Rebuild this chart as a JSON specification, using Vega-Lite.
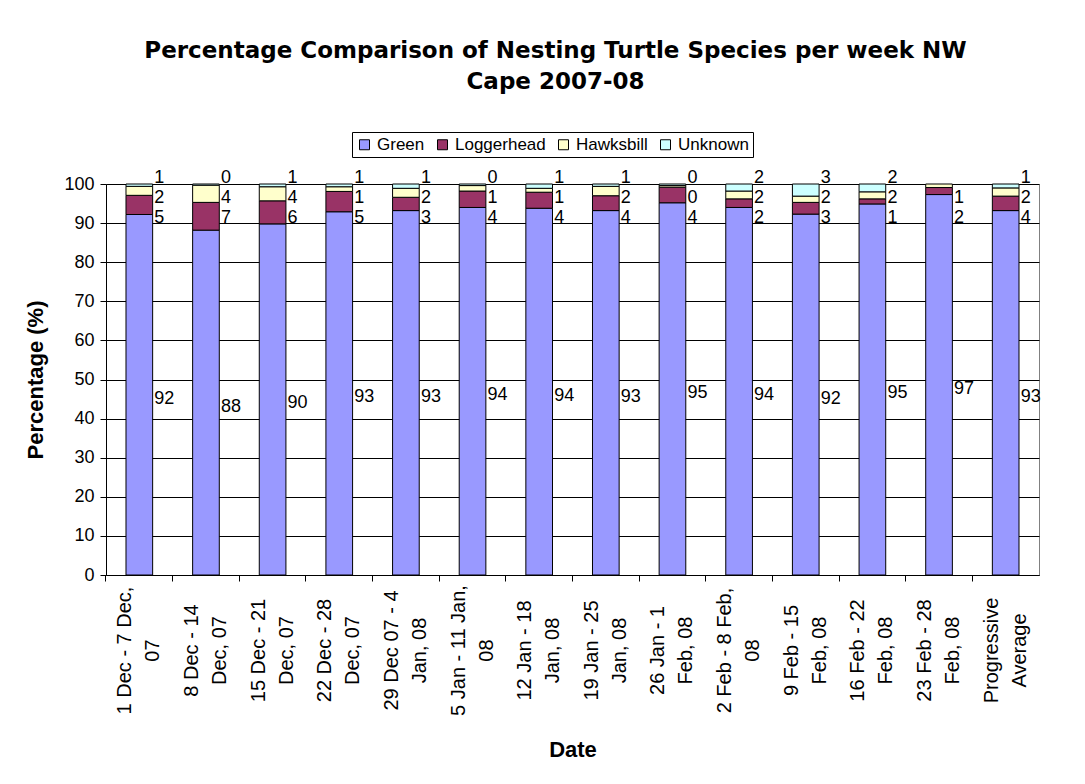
{
  "$schema": "https://vega.github.io/schema/vega-lite/v6.json",
  "width": 933,
  "height": 391,
  "autosize": {"type": "none"},
  "padding": {"left": 106, "top": 184, "right": 46, "bottom": 209},
  "background": "white",
  "config": {
    "font": "Liberation Sans",
    "view": {"stroke": "#808080", "strokeWidth": 1},
    "axis": {"labelFont": "Liberation Sans", "titleFont": "Liberation Sans", "labelColor": "#000", "titleColor": "#000"},
    "axisY": {
      "tickCount": 10,
      "labelOverlap": false,
      "labelFontSize": 18,
      "labelPadding": 6,
      "tickSize": 6,
      "tickColor": "#000",
      "domainColor": "#000",
      "grid": true,
      "gridColor": "#000",
      "gridWidth": 1,
      "titleFontSize": 22,
      "titleFontWeight": "bold",
      "titlePadding": 16
    }
  },
  "title": {
    "text": ["Percentage Comparison of Nesting Turtle Species per week NW", "Cape 2007-08"],
    "font": "DejaVu Sans",
    "fontSize": 23,
    "fontWeight": "bold",
    "color": "#000",
    "anchor": "middle",
    "dx": -17,
    "offset": 38,
    "lineHeight": 31
  },
  "data": {
    "values": [
      {"week": "1 Dec - 7 Dec,\n07", "species": "Green", "pct": 92.2},
      {"week": "1 Dec - 7 Dec,\n07", "species": "Loggerhead", "pct": 4.9},
      {"week": "1 Dec - 7 Dec,\n07", "species": "Hawksbill", "pct": 2.3},
      {"week": "1 Dec - 7 Dec,\n07", "species": "Unknown", "pct": 0.6},
      {"week": "8 Dec - 14\nDec, 07", "species": "Green", "pct": 88.2},
      {"week": "8 Dec - 14\nDec, 07", "species": "Loggerhead", "pct": 7.1},
      {"week": "8 Dec - 14\nDec, 07", "species": "Hawksbill", "pct": 4.4},
      {"week": "8 Dec - 14\nDec, 07", "species": "Unknown", "pct": 0.3},
      {"week": "15 Dec - 21\nDec, 07", "species": "Green", "pct": 89.8},
      {"week": "15 Dec - 21\nDec, 07", "species": "Loggerhead", "pct": 5.9},
      {"week": "15 Dec - 21\nDec, 07", "species": "Hawksbill", "pct": 3.6},
      {"week": "15 Dec - 21\nDec, 07", "species": "Unknown", "pct": 0.7},
      {"week": "22 Dec - 28\nDec, 07", "species": "Green", "pct": 92.9},
      {"week": "22 Dec - 28\nDec, 07", "species": "Loggerhead", "pct": 5.2},
      {"week": "22 Dec - 28\nDec, 07", "species": "Hawksbill", "pct": 1.2},
      {"week": "22 Dec - 28\nDec, 07", "species": "Unknown", "pct": 0.7},
      {"week": "29 Dec 07 - 4\nJan, 08", "species": "Green", "pct": 93.2},
      {"week": "29 Dec 07 - 4\nJan, 08", "species": "Loggerhead", "pct": 3.4},
      {"week": "29 Dec 07 - 4\nJan, 08", "species": "Hawksbill", "pct": 2.3},
      {"week": "29 Dec 07 - 4\nJan, 08", "species": "Unknown", "pct": 1.1},
      {"week": "5 Jan - 11 Jan,\n08", "species": "Green", "pct": 94.0},
      {"week": "5 Jan - 11 Jan,\n08", "species": "Loggerhead", "pct": 4.2},
      {"week": "5 Jan - 11 Jan,\n08", "species": "Hawksbill", "pct": 1.4},
      {"week": "5 Jan - 11 Jan,\n08", "species": "Unknown", "pct": 0.4},
      {"week": "12 Jan - 18\nJan, 08", "species": "Green", "pct": 93.8},
      {"week": "12 Jan - 18\nJan, 08", "species": "Loggerhead", "pct": 4.1},
      {"week": "12 Jan - 18\nJan, 08", "species": "Hawksbill", "pct": 1.0},
      {"week": "12 Jan - 18\nJan, 08", "species": "Unknown", "pct": 1.1},
      {"week": "19 Jan - 25\nJan, 08", "species": "Green", "pct": 93.2},
      {"week": "19 Jan - 25\nJan, 08", "species": "Loggerhead", "pct": 3.8},
      {"week": "19 Jan - 25\nJan, 08", "species": "Hawksbill", "pct": 2.4},
      {"week": "19 Jan - 25\nJan, 08", "species": "Unknown", "pct": 0.6},
      {"week": "26 Jan - 1\nFeb, 08", "species": "Green", "pct": 95.2},
      {"week": "26 Jan - 1\nFeb, 08", "species": "Loggerhead", "pct": 4.0},
      {"week": "26 Jan - 1\nFeb, 08", "species": "Hawksbill", "pct": 0.4},
      {"week": "26 Jan - 1\nFeb, 08", "species": "Unknown", "pct": 0.4},
      {"week": "2 Feb - 8 Feb,\n08", "species": "Green", "pct": 94.0},
      {"week": "2 Feb - 8 Feb,\n08", "species": "Loggerhead", "pct": 2.2},
      {"week": "2 Feb - 8 Feb,\n08", "species": "Hawksbill", "pct": 2.0},
      {"week": "2 Feb - 8 Feb,\n08", "species": "Unknown", "pct": 1.8},
      {"week": "9 Feb - 15\nFeb, 08", "species": "Green", "pct": 92.3},
      {"week": "9 Feb - 15\nFeb, 08", "species": "Loggerhead", "pct": 3.0},
      {"week": "9 Feb - 15\nFeb, 08", "species": "Hawksbill", "pct": 1.6},
      {"week": "9 Feb - 15\nFeb, 08", "species": "Unknown", "pct": 3.1},
      {"week": "16 Feb - 22\nFeb, 08", "species": "Green", "pct": 94.9},
      {"week": "16 Feb - 22\nFeb, 08", "species": "Loggerhead", "pct": 1.3},
      {"week": "16 Feb - 22\nFeb, 08", "species": "Hawksbill", "pct": 1.8},
      {"week": "16 Feb - 22\nFeb, 08", "species": "Unknown", "pct": 2.0},
      {"week": "23 Feb - 28\nFeb, 08", "species": "Green", "pct": 97.3},
      {"week": "23 Feb - 28\nFeb, 08", "species": "Loggerhead", "pct": 1.8},
      {"week": "23 Feb - 28\nFeb, 08", "species": "Hawksbill", "pct": 0.9},
      {"week": "Progressive\nAverage", "species": "Green", "pct": 93.2},
      {"week": "Progressive\nAverage", "species": "Loggerhead", "pct": 3.7},
      {"week": "Progressive\nAverage", "species": "Hawksbill", "pct": 2.1},
      {"week": "Progressive\nAverage", "species": "Unknown", "pct": 1.0}
    ]
  },
  "transform": [
    {"calculate": "indexof(['Green','Loggerhead','Hawksbill','Unknown'], datum.species)", "as": "stackOrder"}
  ],
  "layer": [
    {
      "mark": {"type": "bar", "stroke": "#000", "strokeWidth": 1},
      "encoding": {
        "x": {
          "field": "week",
          "type": "nominal",
          "sort": null,
          "scale": {"paddingInner": 0.6, "paddingOuter": 0.3},
          "axis": {
            "orient": "bottom",
            "bandPosition": -0.75,
            "labels": false,
            "title": null,
            "ticks": true,
            "tickSize": 6,
            "tickColor": "#000",
            "domainColor": "#000",
            "grid": false
          }
        },
        "y": {
          "field": "pct",
          "type": "quantitative",
          "stack": "zero",
          "scale": {"domain": [0, 100], "nice": false},
          "title": "Percentage (%)"
        },
        "color": {
          "field": "species",
          "type": "nominal",
          "sort": ["Green", "Loggerhead", "Hawksbill", "Unknown"],
          "scale": {
            "domain": ["Green", "Loggerhead", "Hawksbill", "Unknown"],
            "range": ["#9999FF", "#993366", "#FFFFCC", "#CCFFFF"]
          },
          "legend": {
            "title": null,
            "orient": "none",
            "direction": "horizontal",
            "legendX": 246,
            "legendY": -52,
            "strokeColor": "#000",
            "fillColor": "#fff",
            "padding": 4,
            "symbolType": "square",
            "symbolSize": 100,
            "symbolStrokeColor": "#000",
            "symbolStrokeWidth": 1,
            "symbolOpacity": 1,
            "labelFontSize": 17,
            "labelColor": "#000",
            "labelOffset": 4,
            "columnPadding": 9
          }
        },
        "order": {"field": "stackOrder", "type": "quantitative"}
      }
    },
    {
      "transform": [
        {"filter": "datum.species === 'Green'"},
        {"calculate": "datum.pct / 2", "as": "mid"}
      ],
      "mark": {"type": "text", "align": "left", "baseline": "middle", "dx": 15, "dy": 4, "fontSize": 18, "color": "#000"},
      "encoding": {
        "x": {"field": "week", "type": "nominal", "sort": null, "axis": null},
        "y": {"field": "mid", "type": "quantitative", "title": "Percentage (%)"},
        "text": {"field": "pct", "type": "quantitative", "format": ".0f"}
      }
    },
    {
      "transform": [{"filter": "datum.species === 'Loggerhead'"}],
      "mark": {"type": "text", "align": "left", "baseline": "middle", "dx": 15, "dy": 34, "fontSize": 18, "color": "#000"},
      "encoding": {
        "x": {"field": "week", "type": "nominal", "sort": null, "axis": null},
        "y": {"datum": 100, "type": "quantitative", "title": "Percentage (%)"},
        "text": {"field": "pct", "type": "quantitative", "format": ".0f"}
      }
    },
    {
      "transform": [{"filter": "datum.species === 'Hawksbill'"}],
      "mark": {"type": "text", "align": "left", "baseline": "middle", "dx": 15, "dy": 14, "fontSize": 18, "color": "#000"},
      "encoding": {
        "x": {"field": "week", "type": "nominal", "sort": null, "axis": null},
        "y": {"datum": 100, "type": "quantitative", "title": "Percentage (%)"},
        "text": {"field": "pct", "type": "quantitative", "format": ".0f"}
      }
    },
    {
      "transform": [{"filter": "datum.species === 'Unknown'"}],
      "mark": {"type": "text", "align": "left", "baseline": "middle", "dx": 15, "dy": -6, "fontSize": 18, "color": "#000"},
      "encoding": {
        "x": {
          "field": "week",
          "type": "nominal",
          "sort": null,
          "axis": {
            "orient": "bottom",
            "title": "Date",
            "titleFontSize": 22,
            "titleFontWeight": "bold",
            "titlePadding": 24,
            "labelExpr": "split(datum.label, '\\n')",
            "labelAngle": -90,
            "labelAlign": "center",
            "labelBaseline": "middle",
            "labelFontSize": 20,
            "labelLineHeight": 28,
            "labelPadding": 75,
            "labelOffset": -14,
            "ticks": false,
            "domain": false,
            "grid": false,
            "labelBound": false,
            "labelOverlap": false
          }
        },
        "y": {"datum": 100, "type": "quantitative", "title": "Percentage (%)"},
        "text": {"field": "pct", "type": "quantitative", "format": ".0f"}
      }
    }
  ],
  "resolve": {"axis": {"x": "independent"}}
}
